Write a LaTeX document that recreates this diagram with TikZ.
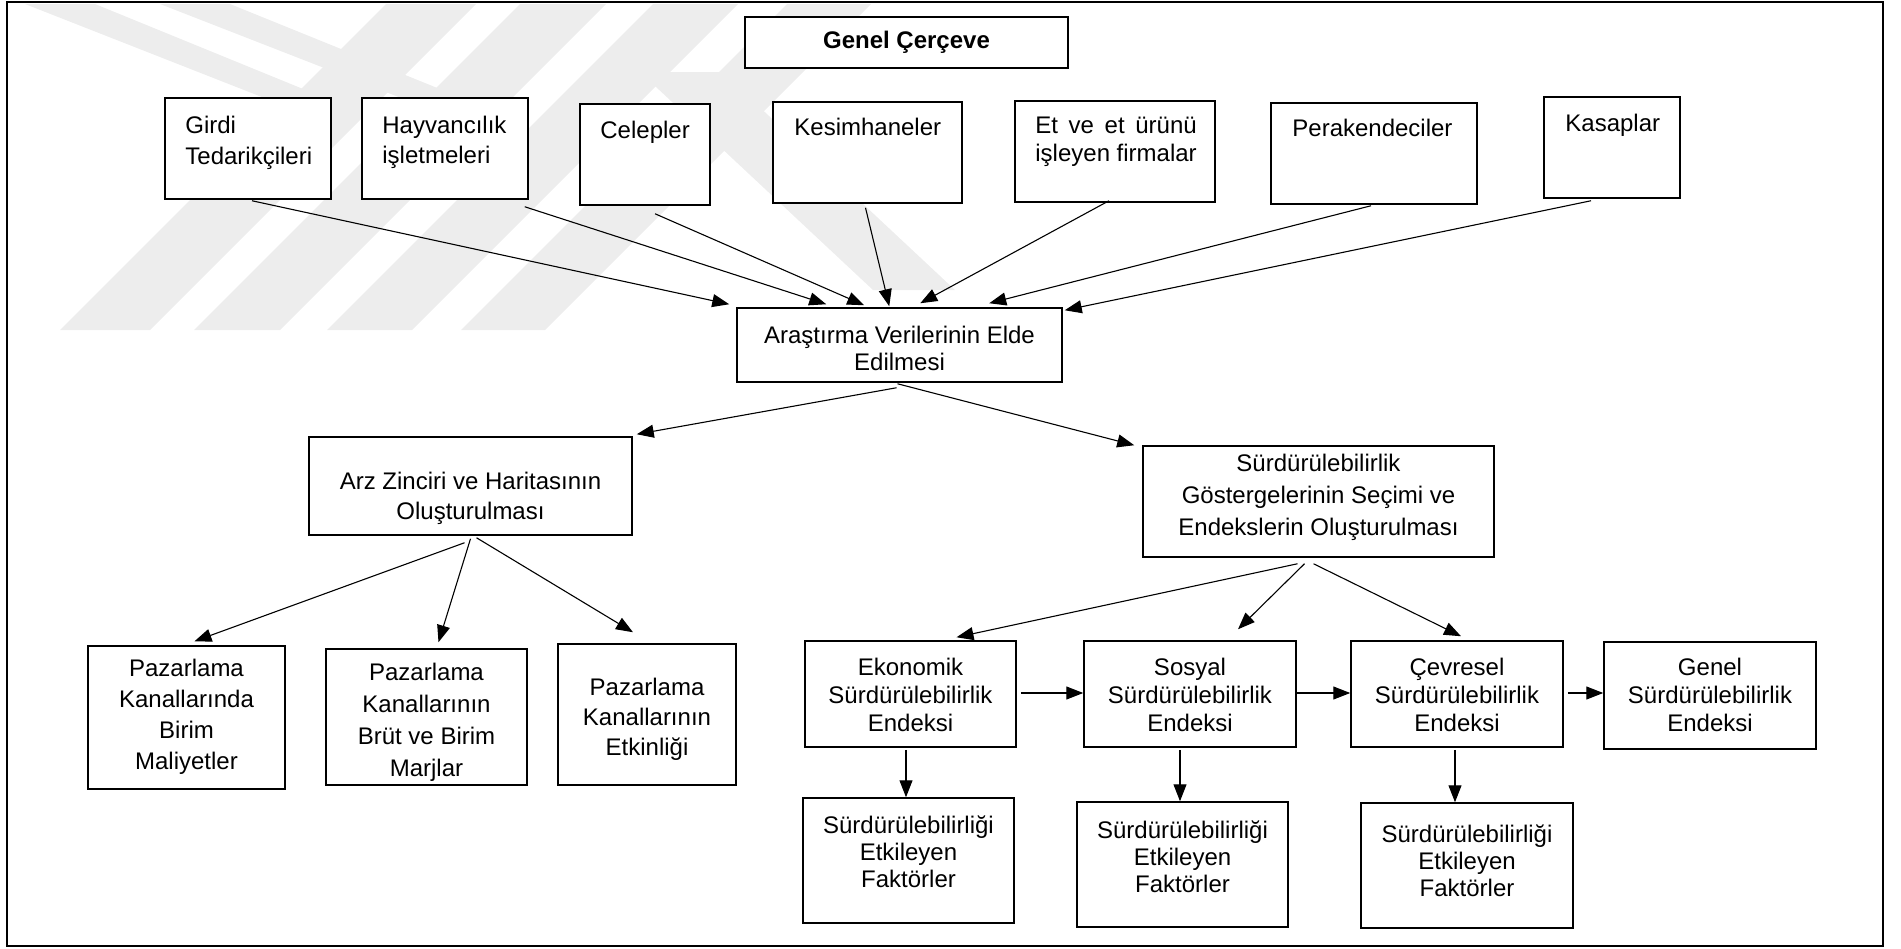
\documentclass[tikz,border=0pt]{standalone}
\usepackage{fontspec}
\setmainfont{Liberation Sans}
\usetikzlibrary{arrows.meta,calc,fit}
\begin{document}
\begin{tikzpicture}[x=0.5pt,y=-0.5pt,
  box/.style={draw=black, fill=white, line width=0.75pt, inner sep=0pt},
  txt/.style={font=\fontsize{12}{#1}\selectfont, align=center, inner sep=0pt},
  txt/.default=14,
  ltxt/.style={font=\fontsize{12}{#1}\selectfont, align=left, inner sep=0pt, anchor=north west},
  ltxt/.default=14,
  arr/.style={line width=0.55pt, -{Triangle[length=8.5pt,width=6.5pt]}},
  wm/.style={fill=black!7, draw=none}]
\useasboundingbox (0,0) rectangle (1901,948);
% watermark (approximate)
\fill[wm] (60,330) -- (150,330) -- (476,4) -- (386,4) -- cycle;
\fill[wm] (194,330) -- (280,330) -- (606,4) -- (520,4) -- cycle;
\fill[wm] (327,330) -- (412,330) -- (738,4) -- (653,4) -- cycle;
\fill[wm] (461,330) -- (545,330) -- (871,4) -- (787,4) -- cycle;
\fill[wm] (25,4) -- (95,4) -- (330,100) -- (300,112) -- cycle;
\fill[wm] (160,4) -- (230,4) -- (462,98) -- (432,110) -- cycle;
\fill[wm] (640,72) -- (722,72) -- (955,290) -- (873,290) -- cycle;
% frame
\draw[line width=1pt] (7,2) rectangle (1883,946);
% top boxes
\node[box, fit={(745,17)(1068,68)}] (gc) {};
\node[txt, font=\fontsize{12}{14}\selectfont\bfseries] at (gc) {Genel Çerçeve};
\node[box, fit={(165,98)(331,199)}] (girdi) {};
\node[ltxt=15.5] at (185,116) {Girdi\\Tedarikçileri};
\node[box, fit={(362,98)(528,199)}] (hayv) {};
\node[ltxt=15] at (382,116) {Hayvancılık\\işletmeleri};
\node[box, fit={(580,104)(710,205)}] (cel) {};
\node[ltxt] at (600,121) {Celepler};
\node[box, fit={(773,102)(962,203)}] (kes) {};
\node[ltxt] at (794,118) {Kesimhaneler};
\node[box, fit={(1015,101)(1215,202)}] (et) {};
\node[ltxt] at (1035,117) {\setbox0\hbox{işleyen firmalar}\hbox to \wd0{Et\hfill ve\hfill et\hfill ürünü}\\işleyen firmalar};
\node[box, fit={(1271,103)(1477,204)}] (per) {};
\node[ltxt] at (1292,119) {Perakendeciler};
\node[box, fit={(1544,97)(1680,198)}] (kas) {};
\node[ltxt] at (1565,114) {Kasaplar};
% middle
\node[box, fit={(737,308)(1062,382)}] (ar) {};
\node[txt=13.5] at (899.5,348) {Araştırma Verilerinin Elde\\Edilmesi};
\node[box, fit={(309,437)(632,535)}] (arz) {};
\node[txt=15] at (470.5,498) {Arz Zinciri ve Haritasının\\Oluşturulması};
\node[box, fit={(1143,446)(1494,557)}] (sg) {};
\node[txt=16] at (1318.5,497) {Sürdürülebilirlik\\Göstergelerinin Seçimi ve\\Endekslerin Oluşturulması};
% bottom left
\node[box, fit={(88,646)(285,789)}] (p1) {};
\node[txt=15.5] at (186.5,717) {Pazarlama\\Kanallarında\\Birim\\Maliyetler};
\node[box, fit={(326,649)(527,785)}] (p2) {};
\node[txt=16] at (426.5,722) {Pazarlama\\Kanallarının\\Brüt ve Birim\\Marjlar};
\node[box, fit={(558,644)(736,785)}] (p3) {};
\node[txt=15] at (647,719) {Pazarlama\\Kanallarının\\Etkinliği};
% bottom right
\node[box, fit={(805,641)(1016,747)}] (ek) {};
\node[txt] at (910.5,695) {Ekonomik\\Sürdürülebilirlik\\Endeksi};
\node[box, fit={(1084,641)(1296,747)}] (sos) {};
\node[txt] at (1190,695) {Sosyal\\Sürdürülebilirlik\\Endeksi};
\node[box, fit={(1351,641)(1563,747)}] (cev) {};
\node[txt] at (1457,695) {Çevresel\\Sürdürülebilirlik\\Endeksi};
\node[box, fit={(1604,642)(1816,749)}] (gen) {};
\node[txt] at (1710,695) {Genel\\Sürdürülebilirlik\\Endeksi};
\node[box, fit={(803,798)(1014,923)}] (s1) {};
\node[txt=13.5] at (908.5,852) {Sürdürülebilirliği\\Etkileyen\\Faktörler};
\node[box, fit={(1077,802)(1288,927)}] (s2) {};
\node[txt=13.5] at (1182.5,857) {Sürdürülebilirliği\\Etkileyen\\Faktörler};
\node[box, fit={(1361,803)(1573,928)}] (s3) {};
\node[txt=13.5] at (1467,861) {Sürdürülebilirliği\\Etkileyen\\Faktörler};
% connectors: top row to ar
\draw[arr] ($(girdi.south)+(4,1)$) -- ($(ar.north west)+(-7,-3)$);
\draw[arr] ($(hayv.south east)+(-4,7)$) -- ($(ar.north west)+(90,-3)$);
\draw[arr] ($(cel.south)+(10,8)$) -- ($(ar.north west)+(128,-2)$);
\draw[arr] ($(kes.south)+(-2,4)$) -- ($(ar.north west)+(153,-1)$);
\draw[arr] ($(et.south)+(-6,-2)$) -- ($(ar.north west)+(184,-4)$);
\draw[arr] ($(per.south)+(-3,1)$) -- ($(ar.north west)+(253,-4)$);
\draw[arr] ($(kas.south)+(-21,2)$) -- ($(ar.north east)+(2,3)$);
% ar to arz, sg
\draw[arr] ($(ar.south)+(-3,5)$) -- ($(arz.north east)+(4,-2)$);
\draw[arr] ($(ar.south)+(-2,1)$) -- ($(sg.north west)+(-8,0)$);
% arz to p
\draw[arr] ($(arz.south)+(-6,7)$) -- ($(p1.north)+(8,-4)$);
\draw[arr] ($(arz.south)+(0,3)$) -- ($(p2.north)+(12,-6)$);
\draw[arr] ($(arz.south)+(6,2)$) -- ($(p3.north)+(-14,-11)$);
% sg to indices
\draw[arr] ($(sg.south)+(-21,6)$) -- ($(ek.north)+(46,-3)$);
\draw[arr] ($(sg.south)+(-14,6)$) -- ($(sos.north)+(48,-11)$);
\draw[arr] ($(sg.south)+(-5,6)$) -- ($(cev.north)+(4,-4)$);
% horizontal
\draw[arr] ($(ek.east)+(4,-1)$) -- ($(sos.west)+(0,-1)$);
\draw[arr] ($(sos.east)+(0,-1)$) -- ($(cev.west)+(0,-1)$);
\draw[arr] ($(cev.east)+(4,-1)$) -- ($(gen.west)+(0,-2.5)$);
% vertical
\draw[arr] ($(ek.south)+(-4.5,2)$) coordinate (v1) -- (v1 |- s1.north);
\draw[arr] ($(sos.south)+(-10,2)$) coordinate (v2) -- (v2 |- s2.north);
\draw[arr] ($(cev.south)+(-2,2)$) coordinate (v3) -- (v3 |- s3.north);
\end{tikzpicture}
\end{document}
